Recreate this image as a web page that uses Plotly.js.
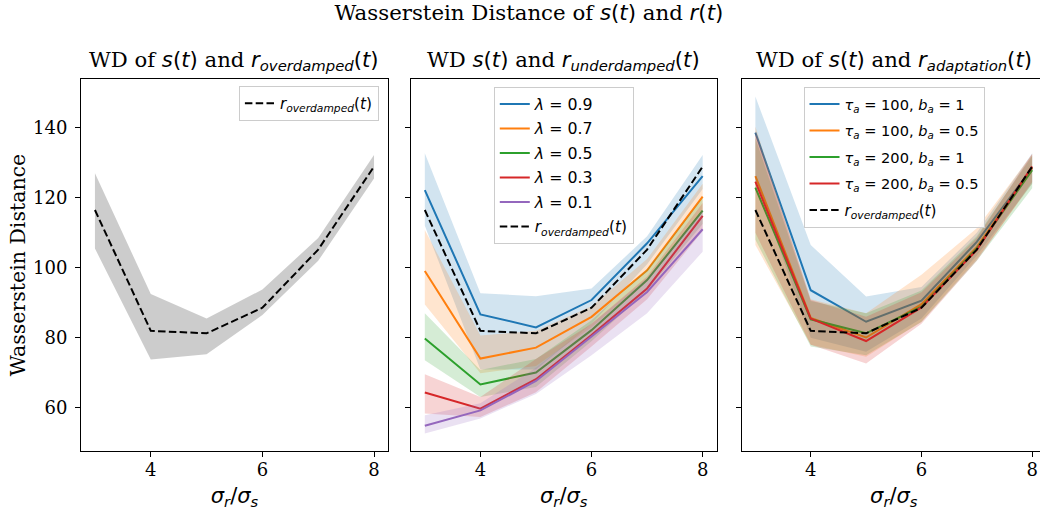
<!DOCTYPE html>
<html>
<head>
<meta charset="utf-8">
<script src="https://cdn.plot.ly/plotly-3.0.1.min.js"></script>
<style>
html,body{margin:0;padding:0;overflow:hidden;background:#fff;width:1040px;height:510px;}
#chart{width:1060px;height:510px;}
</style>
</head>
<body>
<div id="chart"></div>
<script>
// ---- data ----
const sigmaRatio = [3, 4, 5, 6, 7, 8];

// overdamped (shown in all panels)
const overMean = [116.5, 82.0, 81.3, 88.6, 105.2, 128.9];
const overLo   = [105.5, 73.8, 75.3, 86.5, 102.0, 125.5];
const overHi   = [127.0, 92.5, 85.5, 93.8, 108.5, 132.2];

// underdamped, lambda values
const lambdaLabels = ['0.9', '0.7', '0.5', '0.3', '0.1'];
const under09 = [122.2, 86.7, 83.0, 90.8, 107.0, 126.2];
const under09Lo = [112.0, 71.0, 71.0, 84.0, 101.0, 122.5];
const under09Hi = [132.7, 92.7, 91.9, 94.1, 109.0, 132.2];
const under07 = [99.1, 74.1, 77.2, 86.0, 99.3, 120.3];
const under07Lo = [89.5, 69.9, 72.0, 83.0, 96.5, 116.5];
const under07Hi = [110.8, 80.7, 82.0, 89.0, 102.5, 124.0];
const under05 = [79.8, 66.7, 70.1, 82.2, 96.5, 116.3];
const under05Lo = [73.6, 63.1, 66.0, 79.0, 93.5, 112.5];
const under05Hi = [87.0, 70.8, 74.0, 85.0, 99.5, 120.0];
const under03 = [64.4, 59.8, 68.2, 80.8, 94.1, 114.8];
const under03Lo = [58.4, 57.4, 64.5, 77.5, 91.0, 110.5];
const under03Hi = [69.6, 63.1, 74.0, 84.0, 97.5, 118.5];
const under01 = [54.9, 59.3, 67.7, 80.5, 93.1, 111.0];
const under01Lo = [52.7, 57.0, 64.0, 75.0, 87.0, 104.6];
const under01Hi = [57.9, 61.3, 71.5, 84.0, 97.0, 116.5];

// adaptation
const adaptTau = ['100', '100', '200', '200'];
const adaptB = ['1', '0.5', '1', '0.5'];
const adapt1 = [138.6, 93.6, 84.6, 90.6, 107.4, 128.5];
const adapt1Lo = [125.0, 80.0, 76.0, 85.5, 103.5, 124.0];
const adapt1Hi = [148.9, 106.5, 91.8, 94.5, 110.0, 132.7];
const adapt2 = [126.2, 85.7, 80.1, 89.6, 105.9, 128.5];
const adapt2Lo = [106.5, 78.0, 74.6, 84.6, 102.5, 124.0];
const adapt2Hi = [140.3, 91.0, 87.0, 98.0, 111.3, 132.5];
const adapt3 = [122.9, 85.3, 81.3, 88.9, 105.5, 127.9];
const adapt3Lo = [108.0, 77.5, 75.0, 84.5, 102.0, 122.7];
const adapt3Hi = [137.0, 90.5, 87.0, 93.5, 109.0, 132.0];
const adapt4 = [124.6, 85.5, 79.1, 88.7, 105.1, 128.9];
const adapt4Lo = [110.0, 78.0, 72.7, 84.0, 102.0, 124.5];
const adapt4Hi = [139.0, 90.8, 86.0, 93.0, 108.5, 132.5];

const yTicks = [60, 80, 100, 120, 140];
const xTicks = [4, 6, 8];

// ---- styling ----
const tab = ['#1f77b4', '#ff7f0e', '#2ca02c', '#d62728', '#9467bd'];
const tabFill = ['rgba(31,119,180,0.2)', 'rgba(255,127,14,0.2)', 'rgba(44,160,44,0.2)', 'rgba(214,39,40,0.2)', 'rgba(148,103,189,0.2)'];
const SANS = "'DejaVu Sans', sans-serif";
const SERIF = "'DejaVu Serif', serif";
const LW = 2;
const DASH = '7.5px,3.3px';
const TITLE_SIZE = 21.2;
const m = (t, size) => `<span style="font-family:${SANS};font-size:${size}px">${t}</span>`;
const overExpr = '<i>r<sub>overdamped</sub></i>(<i>t</i>)';
const overLegend = m(overExpr, 15.3);

const traces = [];
function band(xa, ya, lo, hi, color) {
  traces.push({
    x: sigmaRatio.concat(sigmaRatio.slice().reverse()),
    y: hi.concat(lo.slice().reverse()),
    xaxis: xa, yaxis: ya, type: 'scatter', mode: 'lines',
    fill: 'toself', fillcolor: color, line: {width: 0, color: color},
    hoverinfo: 'skip', showlegend: false
  });
}
function line(xa, ya, y, color, name, legend, dash) {
  traces.push({
    x: sigmaRatio, y: y, xaxis: xa, yaxis: ya, type: 'scatter', mode: 'lines',
    line: {color: color, width: LW, dash: dash || 'solid'},
    name: name, legend: legend, legendgroup: legend + '_' + traces.length, showlegend: true
  });
}

// panel 1
band('x', 'y', overLo, overHi, 'rgba(128,128,128,0.4)');
line('x', 'y', overMean, '#000', overLegend, 'legend', DASH);

// panel 2
const underSeries = [[under09, under09Lo, under09Hi], [under07, under07Lo, under07Hi],
  [under05, under05Lo, under05Hi], [under03, under03Lo, under03Hi], [under01, under01Lo, under01Hi]];
underSeries.forEach((s, i) => {
  band('x2', 'y2', s[1], s[2], tabFill[i]);
  line('x2', 'y2', s[0], tab[i], m('<i>λ</i> = ' + lambdaLabels[i], 15.8), 'legend2');
});
line('x2', 'y2', overMean, '#000', overLegend, 'legend2', DASH);

// panel 3
const adaptSeries = [[adapt1, adapt1Lo, adapt1Hi], [adapt2, adapt2Lo, adapt2Hi],
  [adapt3, adapt3Lo, adapt3Hi], [adapt4, adapt4Lo, adapt4Hi]];
adaptSeries.forEach((s, i) => {
  band('x3', 'y3', s[1], s[2], tabFill[i]);
  line('x3', 'y3', s[0], tab[i],
    m('<i>τ<sub>a</sub></i> = ' + adaptTau[i] + ', <i>b<sub>a</sub></i> = ' + adaptB[i], 14.6), 'legend3');
});
line('x3', 'y3', overMean, '#000', overLegend, 'legend3', DASH);

const xTitle = m('<i>σ<sub>r</sub></i>/<i>σ<sub>s</sub></i>', 21);
function xax(domain) {
  return {
    domain: domain, range: [2.75, 8.25], tickvals: xTicks, ticktext: xTicks.map(String),
    ticks: 'outside', ticklen: 5, tickwidth: 1, tickcolor: '#000', ticklabelstandoff: -3,
    showline: true, linecolor: '#000', linewidth: 1, mirror: true,
    showgrid: false, zeroline: false,
    tickfont: {family: SERIF, size: 18, color: '#000'},
    title: {text: xTitle, font: {family: SANS, size: 21, color: '#000'}, standoff: 10}
  };
}
function yax(anchor, showLabels) {
  return {
    domain: [0, 1], range: [47.7, 153.9], anchor: anchor, tickvals: yTicks,
    ticktext: yTicks.map(String), showticklabels: showLabels,
    ticks: 'outside', ticklen: 5, tickwidth: 1, tickcolor: '#000', ticklabelstandoff: 4,
    showline: true, linecolor: '#000', linewidth: 1, mirror: true,
    showgrid: false, zeroline: false,
    tickfont: {family: SERIF, size: 18, color: '#000'}
  };
}

const legendBase = {
  bgcolor: 'rgba(255,255,255,0.8)', bordercolor: '#cccccc', borderwidth: 1,
  font: {family: SANS, size: 15, color: '#000'},
  xref: 'paper', yref: 'paper', yanchor: 'top', tracegroupgap: 2
};

const subTitles = [
  'WD of ' + m('<i>s</i>(<i>t</i>)', TITLE_SIZE) + ' and ' + m(overExpr, TITLE_SIZE),
  'WD ' + m('<i>s</i>(<i>t</i>)', TITLE_SIZE) + ' and ' + m('<i>r<sub>underdamped</sub></i>(<i>t</i>)', TITLE_SIZE),
  'WD of ' + m('<i>s</i>(<i>t</i>)', TITLE_SIZE) + ' and ' + m('<i>r<sub>adaptation</sub></i>(<i>t</i>)', TITLE_SIZE)
];

const layout = {
  width: 1060, height: 510,
  margin: {l: 81, r: 13.8, t: 79, b: 59.3},
  paper_bgcolor: '#fff', plot_bgcolor: '#fff',
  font: {family: SERIF, color: '#000'},
  title: {text: 'Wasserstein Distance of ' + m('<i>s</i>(<i>t</i>)', 21.3) + ' and ' + m('<i>r</i>(<i>t</i>)', 21.3),
    x: 0.499, xanchor: 'center', y: 0.991, yanchor: 'top',
    font: {family: SERIF, size: 21.3, color: '#000'}},
  xaxis: xax([0, 0.3181]),
  xaxis2: xax([0.3419, 0.6586]),
  xaxis3: xax([0.6845, 1]),
  yaxis: Object.assign(yax('x', true), {
    title: {text: 'Wasserstein Distance', font: {family: SERIF, size: 20.5, color: '#000'}, standoff: 1}}),
  yaxis2: yax('x2', false),
  yaxis3: yax('x3', false),
  legend: Object.assign({}, legendBase, {x: 0.3087, xanchor: 'right', y: 0.9812}),
  legend2: Object.assign({}, legendBase, {x: 0.5003, xanchor: 'center', y: 0.9793}),
  legend3: Object.assign({}, legendBase, {x: 0.8425, xanchor: 'center', y: 0.9793, tracegroupgap: 4}),
  annotations: subTitles.map((t, i) => ({
    text: t, xref: (i === 0 ? 'x' : 'x' + (i + 1)) + ' domain', x: 0.5, xanchor: 'center',
    yref: 'paper', y: 1, yanchor: 'bottom', yshift: 3, showarrow: false,
    font: {family: SERIF, size: TITLE_SIZE, color: '#000'}
  })),
  showlegend: true
};

Plotly.newPlot('chart', traces, layout, {displayModeBar: false, staticPlot: true});
</script>
</body>
</html>
